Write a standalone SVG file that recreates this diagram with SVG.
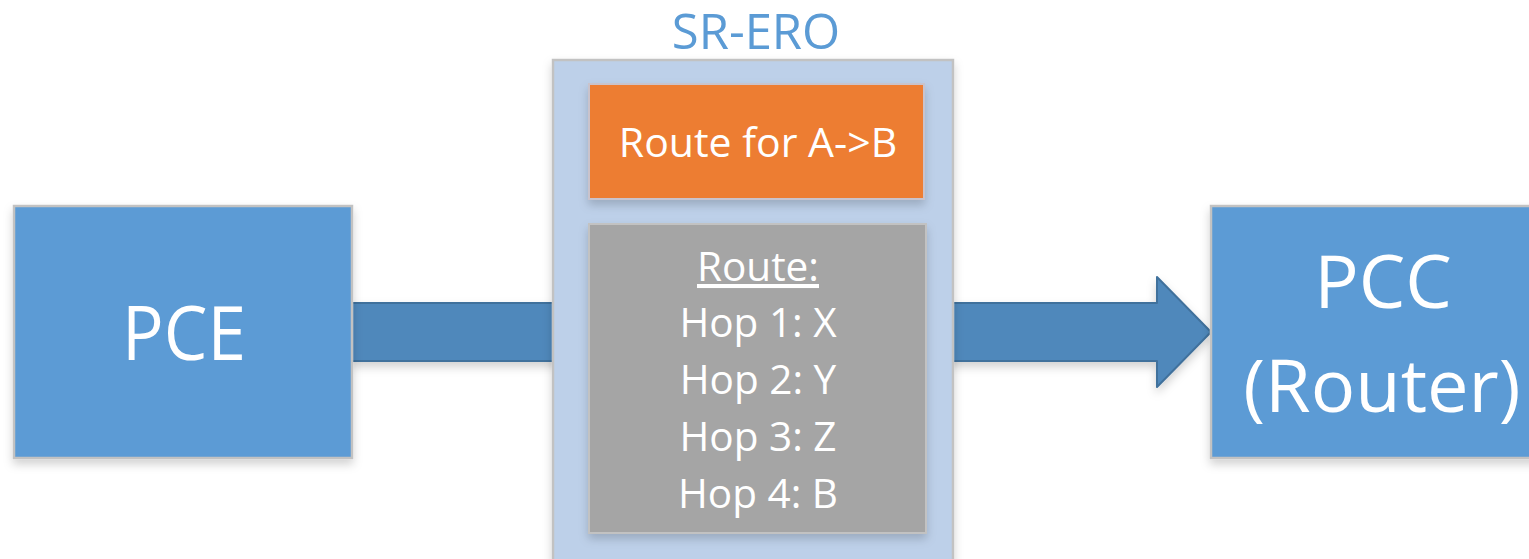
<svg xmlns="http://www.w3.org/2000/svg" width="1529" height="559" viewBox="0 0 1529 559">
  <defs>
    <filter id="shadow" x="-10%" y="-10%" width="120%" height="130%">
      <feDropShadow dx="0" dy="5" stdDeviation="5" flood-color="#000" flood-opacity="0.18"/>
    </filter>
    <style>
      .lbl { font-family: "Open Sans", "Noto Sans", "Liberation Sans", sans-serif; fill: #ffffff; text-anchor: middle; }
      .node { fill: #5b9bd5; stroke: #c2c2c2; stroke-width: 2.5; }
      .arrow { fill: #4f88bb; stroke: #41719c; stroke-width: 2; stroke-linejoin: round; }
    </style>
  </defs>
  <rect width="1529" height="559" fill="#ffffff"/>

  <!-- connector: PCE to PCC, passing behind the SR-ERO object -->
  <g id="connectors">
    <polygon class="arrow" filter="url(#shadow)" points="352,303 1157,303 1157,277 1211,332 1157,387 1157,361 352,361"/>
  </g>

  <!-- PCE -->
  <g id="pce">
    <rect class="node" x="14" y="206" width="338" height="252" filter="url(#shadow)"/>
    <text class="lbl" x="184" y="360" font-size="75" textLength="124" lengthAdjust="spacingAndGlyphs">PCE</text>
  </g>

  <!-- SR-ERO object -->
  <g id="sr-ero">
    <text x="756" y="49" font-family="Open Sans, Noto Sans, Liberation Sans, sans-serif" font-size="49" fill="#5b9bd5" text-anchor="middle">SR-ERO</text>
    <rect x="553" y="60" width="400" height="520" fill="#bdd0e9" stroke="#c2c2c2" stroke-width="2.5" filter="url(#shadow)"/>
  </g>

  <g id="route-header">
    <rect x="589" y="84" width="335" height="115" fill="#ed7d31" stroke="#c9c3cc" stroke-width="2" filter="url(#shadow)"/>
    <text class="lbl" x="758" y="157" font-size="41">Route for A-&gt;B</text>
  </g>

  <g id="route-hops">
    <rect x="589" y="224" width="337" height="309" fill="#a5a5a5" stroke="#c2c2c2" stroke-width="2" filter="url(#shadow)"/>
    <text class="lbl" x="758" y="281" font-size="40.5" text-decoration="underline">Route:</text>
    <text class="lbl" x="758" y="337" font-size="40.5">Hop 1: X</text>
    <text class="lbl" x="758" y="394" font-size="40.5">Hop 2: Y</text>
    <text class="lbl" x="758" y="451" font-size="40.5">Hop 3: Z</text>
    <text class="lbl" x="758" y="508" font-size="40.5">Hop 4: B</text>
  </g>

  <!-- PCC -->
  <g id="pcc">
    <rect class="node" x="1211" y="206" width="340" height="252" filter="url(#shadow)"/>
    <text class="lbl" x="1383" y="308" font-size="74">PCC</text>
    <text class="lbl" x="1382" y="412" font-size="74">(Router)</text>
  </g>
</svg>
